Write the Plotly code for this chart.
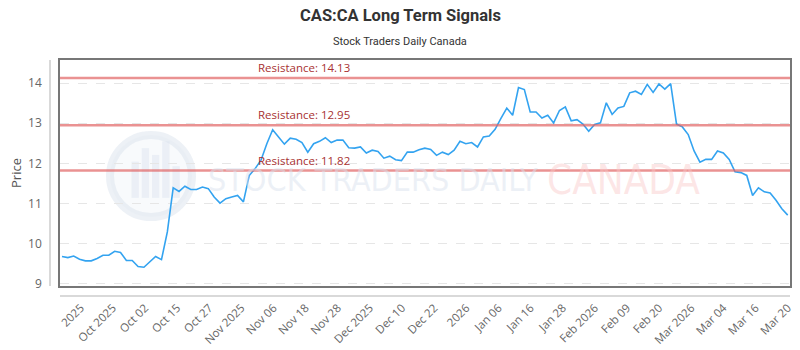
import numpy as np
import plotly.graph_objects as go

# ---- data ----
prices_part1 = [9.68, 9.65, 9.69, 9.61, 9.57, 9.57, 9.63, 9.71, 9.71, 9.81, 9.78, 9.58, 9.58, 9.43, 9.41, 9.54,
                9.68, 9.60, 10.29, 11.39, 11.30, 11.43, 11.35, 11.35, 11.41, 11.37, 11.16, 11.01, 11.12, 11.16,
                11.20, 11.04]
prices_part2 = [11.70, 11.87, 12.08, 12.49, 12.84, 12.66, 12.48, 12.63, 12.60, 12.52,
                12.28, 12.49, 12.55, 12.64, 12.52, 12.58, 12.58, 12.39, 12.38, 12.41,
                12.26, 12.33, 12.30, 12.13, 12.18, 12.09, 12.07, 12.28, 12.28, 12.34,
                12.38, 12.35, 12.20, 12.28, 12.22, 12.33, 12.55, 12.49, 12.52, 12.41,
                12.66, 12.68, 12.85, 13.12, 13.38, 13.20, 13.89, 13.84, 13.28, 13.28]
prices_part3 = [13.13, 13.20, 13.01, 13.32, 13.41, 13.06, 13.09, 12.98, 12.80, 12.97, 13.01, 13.51,
                13.22, 13.38, 13.42, 13.76, 13.80, 13.72, 13.97, 13.77, 13.98, 13.85, 13.99]
prices_part4 = [12.98, 12.91, 12.72, 12.31, 12.03, 12.10, 12.10, 12.31, 12.26, 12.10, 11.79, 11.77,
                11.70, 11.20, 11.39, 11.29, 11.26, 11.08, 10.87, 10.71]
prices = prices_part1 + prices_part2 + prices_part3 + prices_part4

tick_labels = ["2025", "Oct 2025", "Oct 02", "Oct 15", "Oct 27", "Nov 2025", "Nov 06", "Nov 18",
               "Nov 28", "Dec 2025", "Dec 10", "Dec 22", "2026", "Jan 06", "Jan 16", "Jan 28",
               "Feb 2026", "Feb 09", "Feb 20", "Mar 2026", "Mar 04", "Mar 16", "Mar 20"]

resistance_levels = [14.13, 12.95, 11.82]

y_ticks = [9, 10, 11, 12, 13, 14]

# ---- figure ----
n = len(prices)
x_idx = list(range(n))
tick_pos = list(np.linspace(3.2, n - 1, len(tick_labels)))

fig = go.Figure()
fig.add_trace(go.Scatter(
    x=x_idx, y=prices, mode="lines",
    line=dict(color="#33a3f0", width=1.6),
    hoverinfo="y", showlegend=False,
))

shapes = []
annotations = []

# watermark logo (circle)
shapes.append(dict(type="circle", xref="paper", yref="paper",
                   x0=0.0685, x1=0.1808, y0=0.305, y1=0.668,
                   line=dict(color="rgba(215,223,236,0.45)", width=8),
                   fillcolor="rgba(232,237,245,0.3)", layer="below"))
for bx, bh in [(0.098, 0.16), (0.112, 0.22), (0.126, 0.19), (0.140, 0.25), (0.154, 0.14)]:
    shapes.append(dict(type="rect", xref="paper", yref="paper",
                       x0=bx, x1=bx + 0.01, y0=0.39, y1=0.39 + bh,
                       line=dict(width=0), fillcolor="rgba(215,223,238,0.4)", layer="below"))

annotations.append(dict(text="STOCK TRADERS DAILY", xref="paper", yref="paper",
                        x=(206 - 60) / 730, y=(286 - 180) / 226, showarrow=False,
                        xanchor="left", yanchor="middle",
                        font=dict(family="Liberation Sans Narrow, DejaVu Sans Condensed, sans-serif",
                                  size=32, color="rgba(218,226,238,0.5)")))
annotations.append(dict(text="CANADA", xref="paper", yref="paper",
                        x=(545 - 60) / 730, y=(286 - 180) / 226, showarrow=False,
                        xanchor="left", yanchor="middle",
                        font=dict(family="Liberation Sans Narrow, DejaVu Sans Condensed, sans-serif",
                                  size=40, color="rgba(250,200,200,0.45)")))

# resistance lines
for lvl in resistance_levels:
    shapes.append(dict(type="line", xref="paper", yref="y", x0=0, x1=1, y0=lvl, y1=lvl,
                       line=dict(color="rgba(225,100,100,0.7)", width=2.5)))
    annotations.append(dict(text=f"Resistance: {lvl:.2f}", xref="paper", yref="y",
                            x=(256 - 60) / 730, y=lvl, xanchor="left", yanchor="bottom",
                            yshift=1, showarrow=False,
                            font=dict(family="Open Sans", size=11.5, color="#a83232")))

# detached axis lines
shapes.append(dict(type="line", xref="paper", yref="paper", x0=-10 / 730, x1=-10 / 730,
                   y0=0, y1=1, line=dict(color="#cccccc", width=1.5)))
shapes.append(dict(type="line", xref="paper", yref="paper", x0=0, x1=1,
                   y0=-10 / 226, y1=-10 / 226, line=dict(color="#cccccc", width=1.5)))

# titles
annotations.append(dict(text="<b>CAS:CA Long Term Signals</b>", xref="paper", yref="paper",
                        x=(400 - 60) / 730, y=(286 - 15) / 226, showarrow=False,
                        xanchor="center", yanchor="middle",
                        font=dict(family="Roboto", size=16.5, color="#333333")))
annotations.append(dict(text="Stock Traders Daily Canada", xref="paper", yref="paper",
                        x=(400 - 60) / 730, y=(286 - 41) / 226, showarrow=False,
                        xanchor="center", yanchor="middle",
                        font=dict(family="Roboto", size=11, color="#333333")))
annotations.append(dict(text="Price", xref="paper", yref="paper",
                        x=(16 - 60) / 730, y=0.5, showarrow=False, textangle=-90,
                        xanchor="center", yanchor="middle",
                        font=dict(family="Open Sans", size=13, color="#555555")))

fig.update_layout(
    width=800, height=350,
    margin=dict(l=60, r=10, t=60, b=64),
    paper_bgcolor="white", plot_bgcolor="white",
    shapes=shapes, annotations=annotations,
    showlegend=False,
    xaxis=dict(
        range=[-0.34, n - 1 + 0.39],
        tickmode="array", tickvals=tick_pos, ticktext=tick_labels,
        tickangle=-45, ticks="", ticklabelstandoff=9, automargin=False,
        tickfont=dict(family="Open Sans", size=11.5, color="#666666"),
        showgrid=False, zeroline=False,
        showline=True, mirror=True, linecolor="#777777", linewidth=1.5,
    ),
    yaxis=dict(
        range=[8.943, 14.578],
        tickmode="array", tickvals=y_ticks, automargin=False,
        ticks="", ticklabelstandoff=14,
        tickfont=dict(family="Open Sans", size=12, color="#666666"),
        showgrid=True, gridcolor="#e6e6e6", griddash="dash", gridwidth=1,
        zeroline=False,
        showline=True, mirror=True, linecolor="#777777", linewidth=1.5,
    ),
)

fig.write_html("out.html")
